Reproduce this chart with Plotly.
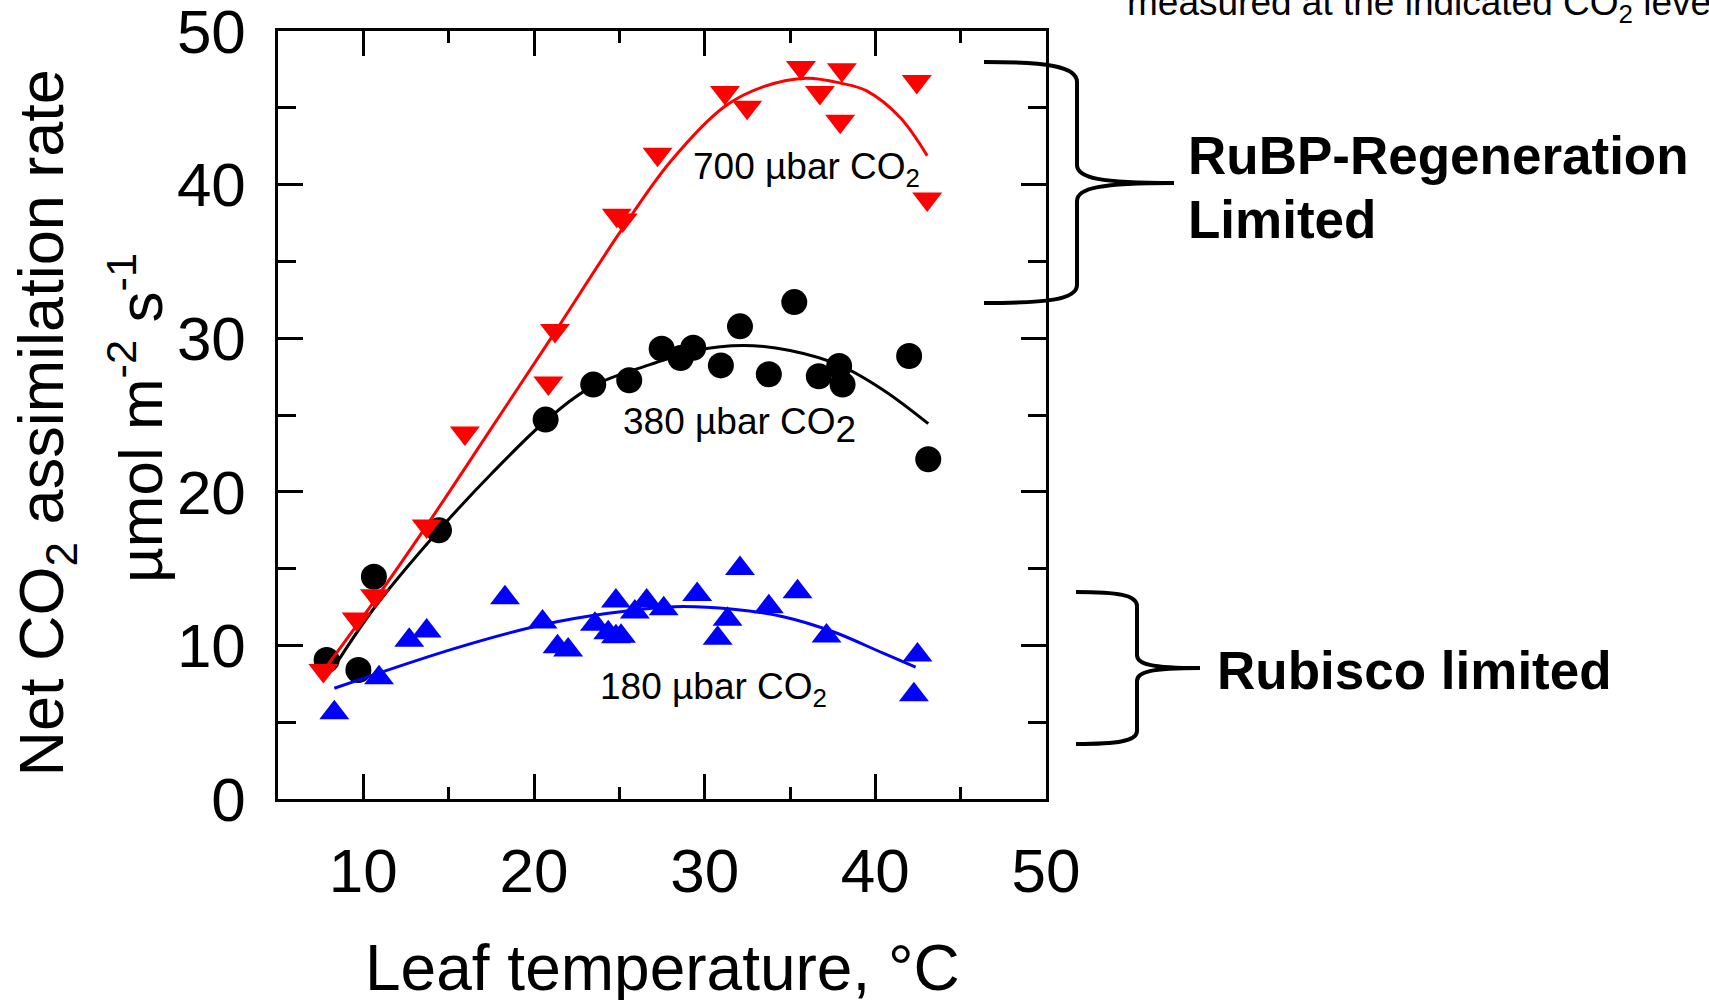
import plotly.graph_objects as go

# Net CO2 assimilation (µmol m-2 s-1) against leaf temperature (°C) at three CO2 levels
temp_700 = [7.66, 9.61, 10.68, 13.71, 15.95, 20.84, 21.23, 24.85, 25.2, 27.24,
            31.19, 32.49, 35.64, 36.75, 37.94, 38.04, 42.43, 43.04]
rate_700 = [8.36, 11.72, 13.23, 17.78, 23.83, 27.08, 30.5, 38.0, 37.7, 41.97,
            46.0, 45.03, 47.63, 46.0, 44.12, 47.48, 46.72, 39.07]

temp_380 = [7.85, 9.71, 10.62, 14.43, 20.68, 23.47, 25.58, 27.48, 28.59, 29.33,
            30.95, 32.07, 33.76, 35.25, 36.69, 37.88, 38.08, 41.98, 43.1]
rate_380 = [9.05, 8.4, 14.47, 17.5, 24.7, 26.98, 27.26, 29.32, 28.71, 29.38,
            28.23, 30.77, 27.65, 32.35, 27.52, 28.19, 26.98, 28.84, 22.12]

temp_180 = [8.3, 10.92, 12.69, 13.71, 18.3, 20.5, 21.38, 22.0, 23.57, 24.35,
            24.8, 25.1, 24.8, 25.91, 26.6, 27.6, 29.56, 30.76, 31.34, 32.07,
            33.76, 35.44, 37.14, 42.26, 42.47]
rate_180 = [5.62, 7.9, 10.33, 10.94, 13.1, 11.52, 9.92, 9.7, 11.37, 10.83,
            10.57, 10.6, 12.89, 12.17, 12.89, 12.39, 13.32, 10.46, 11.7, 15.01,
            12.52, 13.49, 10.61, 6.78, 9.38]

# Fitted response curves
fit_temp_700 = [7.56, 10.68, 13.71, 17.42, 21.23, 25.04, 28.0, 31.19, 33.5,
                35.97, 38.0, 39.49, 41.44, 43.04]
fit_rate_700 = [8.2, 12.95, 17.8, 24.0, 30.4, 36.9, 41.5, 45.1, 46.4,
                46.93, 46.6, 46.1, 44.38, 41.88]

fit_temp_380 = [8.24, 10.68, 14.43, 17.52, 20.68, 23.47, 26.79, 29.5, 32.26,
                35.0, 37.92, 40.5, 43.1]
fit_rate_380 = [8.51, 12.5, 17.5, 21.19, 24.61, 26.9, 28.28, 29.2, 29.53,
                29.2, 28.23, 26.6, 24.44]

fit_temp_180 = [8.3, 15.37, 20.45, 24.35, 28.26, 31.67, 34.6, 37.53, 40.46, 42.36]
fit_rate_180 = [7.21, 9.81, 11.33, 12.09, 12.52, 12.35, 11.87, 10.89, 9.49, 8.58]

x_major = [10, 20, 30, 40, 50]
x_minor = [15, 25, 35, 45]
y_major = [0, 10, 20, 30, 40, 50]
y_minor = [5, 15, 25, 35, 45]

FONT = "Liberation Sans, Arial, Helvetica, sans-serif"
W, H = 1709, 1000
L, R, T, B = 278, 1046, 31, 799  # plot area in pixels


def paper(px, py):
    return (px - L) / (R - L), (B - py) / (B - T)


fig = go.Figure()


def add_group(t, a, ft, fa, color, symbol, size):
    fig.add_trace(go.Scatter(x=t, y=a, mode="markers",
                             marker=dict(color=color, symbol=symbol, size=size,
                                         line=dict(width=0)),
                             hoverinfo="skip"))
    fig.add_trace(go.Scatter(x=ft, y=fa, mode="lines",
                             line=dict(color=color, width=3, shape="spline",
                                       smoothing=1.0),
                             hoverinfo="skip"))


add_group(temp_380, rate_380, fit_temp_380, fit_rate_380, "#000000", "circle", 26)
add_group(temp_700, rate_700, fit_temp_700, fit_rate_700, "#FF0000", "triangle-down", 26)
add_group(temp_180, rate_180, fit_temp_180, fit_rate_180, "#0000FF", "triangle-up", 26)

axis_common = dict(
    ticks="inside", ticklen=25, tickwidth=2.5, tickcolor="black",
    showline=True, linewidth=2.5, linecolor="black", mirror="allticks",
    showgrid=False, zeroline=False, ticklabeloverflow="allow", automargin=False,
    tickfont=dict(size=62, family=FONT, color="black"),
)
fig.update_xaxes(range=[5, 50], tickvals=x_major, ticklabelstandoff=16,
                 minor=dict(tickvals=x_minor, ticks="inside", ticklen=12,
                            tickwidth=2.5, tickcolor="black", showgrid=False),
                 **axis_common)
fig.update_yaxes(range=[0, 50], tickvals=y_major, ticklabelstandoff=17,
                 minor=dict(tickvals=y_minor, ticks="inside", ticklen=18,
                            tickwidth=2.5, tickcolor="black", showgrid=False),
                 **axis_common)


def label(text, px, baseline, size, bold=False, anchor="left"):
    x, _ = paper(px, 0)
    _, y = paper(0, baseline - 0.905 * size)
    if bold:
        text = "<b>" + text + "</b>"
    fig.add_annotation(text=text, x=x, y=y, xref="paper", yref="paper",
                       xanchor=anchor, yanchor="top", showarrow=False,
                       borderpad=0, borderwidth=0,
                       font=dict(size=size, family=FONT, color="black"))


label("700 µbar CO<sub>2</sub>", 693, 179, 37)
label("380 µbar CO<sub><span style='font-size:37px'>2</span></sub>", 623, 434, 37)
label("180 µbar CO<sub>2</sub>", 600, 699, 37)
label("RuBP-Regeneration", 1188, 174, 53, bold=True)
label("Limited", 1188, 238, 53, bold=True)
label("Rubisco limited", 1217, 689, 53, bold=True)
label("measured at the indicated CO<sub>2</sub> levels", 1127, 15, 37)
label("Leaf temperature, °C", 662, 990, 64, anchor="center")

# Rotated y-axis titles
for text, base_x, cy, size in [
    ("Net CO<sub>2</sub> assimilation rate", 63, 423, 63),
    ("µmol m<sup>-2</sup> s<sup>-1</sup>", 153, 418, 62),
]:
    x, _ = paper(base_x - 0.905 * size, 0)
    _, y = paper(0, cy)
    fig.add_annotation(text=text, x=x, y=y, xref="paper", yref="paper",
                       xanchor="left", yanchor="middle", textangle=-90,
                       showarrow=False, borderpad=0, borderwidth=0,
                       font=dict(size=size, family=FONT, color="black"))


def brace(points):
    cmds = []
    for cmd, pts in points:
        coords = " ".join("%.5f,%.5f" % paper(px, py) for px, py in pts)
        cmds.append(cmd + " " + coords)
    return " ".join(cmds)


rubp_brace = brace([
    ("M", [(984, 62)]),
    ("C", [(1045, 62), (1077, 66), (1077, 82)]),
    ("L", [(1077, 165)]),
    ("C", [(1077, 178), (1100, 183), (1174, 183)]),
    ("C", [(1100, 183), (1077, 188), (1077, 201)]),
    ("L", [(1077, 285)]),
    ("C", [(1077, 300), (1045, 303), (984, 303)]),
])
rubisco_brace = brace([
    ("M", [(1076, 592)]),
    ("C", [(1118, 592), (1137, 595), (1137, 606)]),
    ("L", [(1137, 655)]),
    ("C", [(1137, 664), (1150, 668), (1200, 668)]),
    ("C", [(1150, 668), (1137, 672), (1137, 681)]),
    ("L", [(1137, 731)]),
    ("C", [(1137, 741), (1118, 744), (1076, 744)]),
])
for p in (rubp_brace, rubisco_brace):
    fig.add_shape(type="path", path=p, xref="paper", yref="paper",
                  line=dict(color="black", width=4), fillcolor="rgba(0,0,0,0)")

fig.update_layout(
    width=W, height=H,
    margin=dict(l=L, r=W - R, t=T, b=H - B, autoexpand=False),
    paper_bgcolor="white", plot_bgcolor="white",
    showlegend=False,
    font=dict(family=FONT, color="black"),
)

fig.write_html("out.html")
